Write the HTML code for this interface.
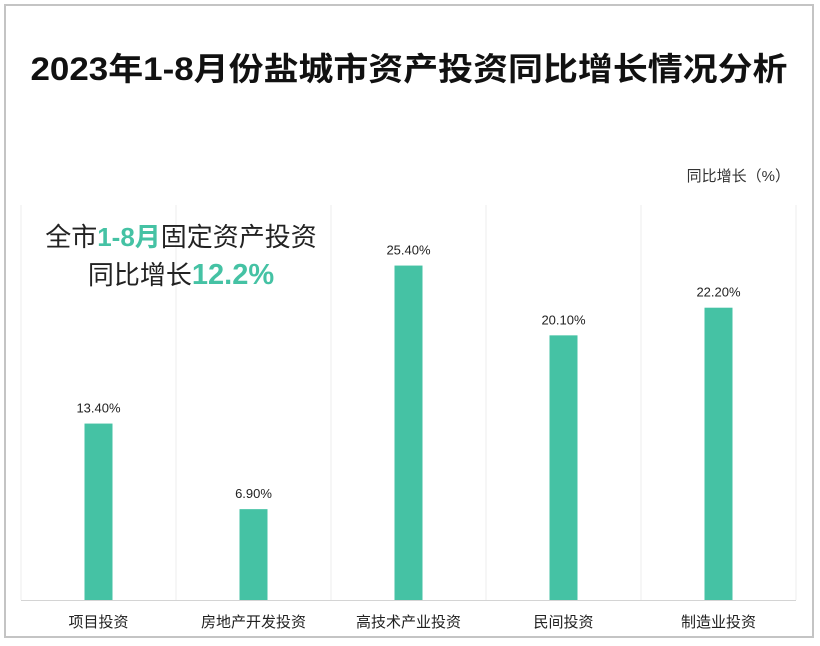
<!DOCTYPE html>
<html><head><meta charset="utf-8"><style>
body{margin:0;width:820px;height:646px;background:#fff;overflow:hidden;font-family:"Liberation Sans","Noto Sans CJK SC",sans-serif}
#frame{position:absolute;left:4px;top:4px;width:810px;height:634px;border:2px solid #c4c4c4;box-sizing:border-box}
</style></head><body>
<div id="frame"></div>
<svg width="820" height="646" style="position:absolute;left:0;top:0">
<text x="409" y="80" text-anchor="middle" font-size="32" font-weight="bold" fill="#111" textLength="757" lengthAdjust="spacingAndGlyphs" font-family="Liberation Sans,Noto Sans CJK SC,sans-serif">2023年1-8月份盐城市资产投资同比增长情况分析</text>
<text x="790" y="181" text-anchor="end" font-size="15" fill="#333" font-family="Liberation Sans,Noto Sans CJK SC,sans-serif">同比增长（%）</text>
<g id="grid"></g>
<g id="bars"></g>
<g id="labels"></g>
<text x="181" y="246" text-anchor="middle" font-size="26" fill="#222" font-family="Liberation Sans,Noto Sans CJK SC,sans-serif">全市<tspan fill="#45c2a4" font-weight="bold">1-8月</tspan>固定资产投资</text>
<text x="181" y="284" text-anchor="middle" font-size="26" fill="#222" font-family="Liberation Sans,Noto Sans CJK SC,sans-serif">同比增长<tspan fill="#45c2a4" font-weight="bold" font-size="29">12.2%</tspan></text>
</svg>
<script>
const categories=["项目投资","房地产开发投资","高技术产业投资","民间投资","制造业投资"];
const values=[13.4,6.9,25.4,20.1,22.2];
const valueLabels=["13.40%","6.90%","25.40%","20.10%","22.20%"];
const yMax=30;
const L=21,R=796,T=205,B=600;
const bw=(R-L)/categories.length;
const y=v=>B-(v/yMax)*(B-T);
const xc=i=>L+bw*(i+0.5);
const NS="http://www.w3.org/2000/svg";
const g=document.getElementById('grid'),gb=document.getElementById('bars'),gl=document.getElementById('labels');
function mk(tag,a,p){const e=document.createElementNS(NS,tag);for(const k in a)e.setAttribute(k,a[k]);p.appendChild(e);return e;}
for(let i=0;i<=categories.length;i++){
  const ln=mk('line',{x1:L+bw*i,x2:L+bw*i,y1:T,y2:B,stroke:'#ececec','stroke-width':1},g);
  
  
}
const ax=mk('line',{x1:L,x2:R,y1:B+0.5,y2:B+0.5,stroke:'#d4d4d4','stroke-width':1},g);


categories.forEach((c,i)=>{
  const r=mk('rect',{x:xc(i)-14,y:y(values[i]),width:28,height:B-y(values[i]),fill:'#45c2a4'},gb);
  
  
  const t=mk('text',{x:xc(i),y:y(values[i])-11,'text-anchor':'middle','font-size':13,fill:'#222','font-family':'Liberation Sans,sans-serif'},gl);
  t.textContent=valueLabels[i];
  
  
  const k=mk('text',{x:xc(i),y:627,'text-anchor':'middle','font-size':15,fill:'#222','font-family':'Liberation Sans,Noto Sans CJK SC,sans-serif'},gl);
  k.textContent=c;
  
  
});
</script>
</body></html>
